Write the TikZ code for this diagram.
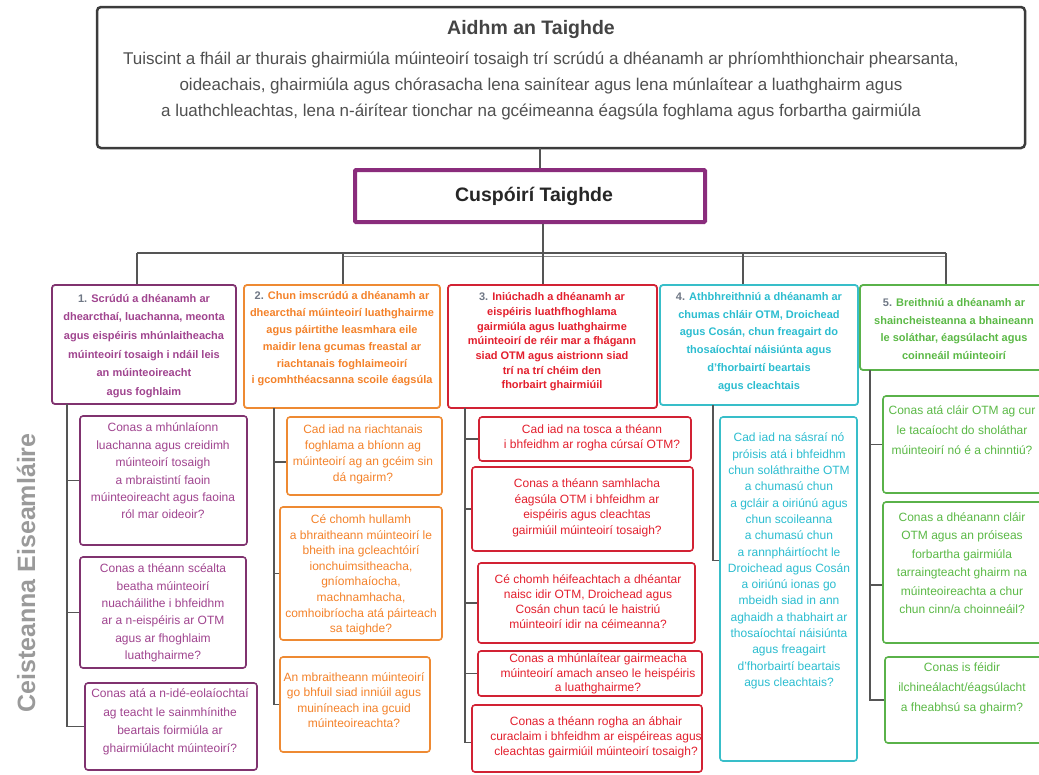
\documentclass[tikz,border=0pt]{standalone}
\usepackage{fontspec}
\setmainfont{Liberation Sans}
\usetikzlibrary{fit}
\definecolor{purpleT}{HTML}{A0448F}
\definecolor{purpleB}{HTML}{80336F}
\definecolor{cuspB}{HTML}{8A2C7C}
\definecolor{orangeT}{HTML}{F4822A}
\definecolor{orangeB}{HTML}{EE8A33}
\definecolor{redT}{HTML}{E31F2D}
\definecolor{redB}{HTML}{D22234}
\definecolor{cyanT}{HTML}{2BBDD0}
\definecolor{cyanB}{HTML}{38BEC9}
\definecolor{greenT}{HTML}{5BB946}
\definecolor{greenB}{HTML}{5AB24A}
\definecolor{numgray}{HTML}{6F7785}
\definecolor{treegray}{HTML}{555555}
\definecolor{aimB}{HTML}{3C3C3C}
\definecolor{aimT}{HTML}{505050}
\definecolor{sidegray}{HTML}{9A9A9A}
\tikzset{
  frame/.style={draw, rounded corners=3pt, fill=white, inner sep=0pt},
  hbox/.style={frame, line width=1.8pt},
  qbox/.style={frame, line width=1.6pt},
  htext/.style={align=center, inner sep=0pt, font=\bfseries\fontsize{11}{#1}\selectfont},
  qtext/.style={align=center, inner sep=0pt, font=\fontsize{12}{#1}\selectfont},
  tree/.style={draw=treegray, line width=1.2pt},
}
\begin{document}
\begin{tikzpicture}[x=1pt,y=-1pt]
\useasboundingbox (0,0) rectangle (1039,774);
\clip (0,0) rectangle (1039,774);

% research aim
\node[frame, draw=aimB, line width=2.5pt, rounded corners=4pt, fit={(97,7) (1025,148)}] (aim) {};
\node[inner sep=0pt, text=aimT!85!black, font=\bfseries\fontsize{19.5}{22}\selectfont] (aimtitle) at (531,29) {Aidhm an Taighde};
\node[align=center, inner sep=0pt, text=aimT, font=\fontsize{17}{26}\selectfont] (aimtext) at (541,86)
  {Tuiscint a fháil ar thurais ghairmiúla múinteoirí tosaigh trí scrúdú a dhéanamh ar phríomhthionchair phearsanta,\\
   oideachais, ghairmiúla agus chórasacha lena sainítear agus lena múnlaítear a luathghairm agus\\
   a luathchleachtas, lena n-áirítear tionchar na gcéimeanna éagsúla foghlama agus forbartha gairmiúla};

% research objectives
\node[frame, draw=cuspB, line width=4pt, rounded corners=1pt, fit={(355,170) (705,222)}] (cusp) {};
\node[inner sep=0pt, font=\bfseries\fontsize{19.5}{22}\selectfont, text=black!85] (cusptext) at (534,196) {Cuspóirí Taighde};

% objective boxes
\node[hbox, draw=purpleB, fit={(52,285) (236,404)}] (h1) {};
\node[htext=18.7, text=purpleT] (h1t) at (144,346)
  {\textcolor{numgray}{1.} Scrúdú a dhéanamh ar\\ dhearcthaí, luachanna, meonta\\ agus eispéiris mhúnlaitheacha\\ múinteoirí tosaigh i ndáil leis\\ an múinteoireacht\\ agus foghlaim};
\node[hbox, draw=orangeB, fit={(244,285) (440,408)}] (h2) {};
\node[htext=16.8, text=orangeT] (h2t) at (342,339)
  {\textcolor{numgray}{2.} Chun imscrúdú a dhéanamh ar\\ dhearcthaí múinteoirí luathghairme\\ agus páirtithe leasmhara eile\\ maidir lena gcumas freastal ar\\ riachtanais foghlaimeoirí\\ i gcomhthéacsanna scoile éagsúla};
\node[hbox, draw=redB, fit={(448,285) (657,408)}] (h3) {};
\node[htext=14.7, text=redT] (h3t) at (552,342)
  {\textcolor{numgray}{3.} Iniúchadh a dhéanamh ar\\ eispéiris luathfhoghlama\\ gairmiúla agus luathghairme\\ múinteoirí de réir mar a fhágann\\ siad OTM agus aistrionn siad\\ trí na trí chéim den\\ fhorbairt ghairmiúil};
\node[hbox, draw=cyanB, fit={(660,285) (858,405)}] (h4) {};
\node[htext=17.8, text=cyanT] (h4t) at (759,342)
  {\textcolor{numgray}{4.} Athbhreithniú a dhéanamh ar\\ chumas chláir OTM, Droichead\\ agus Cosán, chun freagairt do\\ thosaíochtaí náisiúnta agus\\ d'fhorbairtí beartais\\ agus cleachtais};
\node[hbox, draw=greenB, fit={(860,285) (1046,370)}] (h5) {};
\node[htext=17.5, text=greenT] (h5t) at (954,329)
  {\textcolor{numgray}{5.} Breithniú a dhéanamh ar\\ shaincheisteanna a bhaineann\\ le soláthar, éagsúlacht agus\\ coinneáil múinteoirí};

% column 1 questions
\node[qbox, draw=purpleB, fit={(80,416) (247,545)}] (q11) {};
\node[qtext=17.4, text=purpleT] at (163,471)
  {Conas a mhúnlaíonn\\ luachanna agus creidimh\\ múinteoirí tosaigh\\ a mbraistintí faoin\\ múinteoireacht agus faoina\\ ról mar oideoir?};
\node[qbox, draw=purpleB, fit={(80,557) (246,668)}] (q12) {};
\node[qtext=17.4, text=purpleT] at (163,613)
  {Conas a théann scéalta\\ beatha múinteoirí\\ nuacháilithe i bhfeidhm\\ ar a n-eispéiris ar OTM\\ agus ar fhoghlaim\\ luathghairme?};
\node[qbox, draw=purpleB, fit={(85,683) (257,770)}] (q13) {};
\node[qtext=18.3, text=purpleT] at (170,722)
  {Conas atá a n-idé-eolaíochtaí\\ ag teacht le sainmhínithe\\ beartais foirmiúla ar\\ ghairmiúlacht múinteoirí?};

% column 2 questions
\node[qbox, draw=orangeB, fit={(287,417) (442,495)}] (q21) {};
\node[qtext=16, text=orangeT] at (363,454)
  {Cad iad na riachtanais\\ foghlama a bhíonn ag\\ múinteoirí ag an gcéim sin\\ dá ngairm?};
\node[qbox, draw=orangeB, fit={(280,507) (442,640)}] (q22) {};
\node[qtext=15.6, text=orangeT] at (361,575)
  {Cé chomh hullamh\\ a bhraitheann múinteoirí le\\ bheith ina gcleachtóirí\\ ionchuimsitheacha,\\ gníomhaíocha,\\ machnamhacha,\\ comhoibríocha atá páirteach\\ sa taighde?};
\node[qbox, draw=orangeB, fit={(280,657) (430,752)}] (q23) {};
\node[qtext=15.5, text=orangeT] at (354,700)
  {An mbraitheann múinteoirí\\ go bhfuil siad inniúil agus\\ muiníneach ina gcuid\\ múinteoireachta?};

% column 3 questions
\node[qbox, draw=redB, fit={(479,417) (691,461)}] (q31) {};
\node[qtext=15, text=redT] at (592,438)
  {Cad iad na tosca a théann\\ i bhfeidhm ar rogha cúrsaí OTM?};
\node[qbox, draw=redB, fit={(472,467) (693,551)}] (q32) {};
\node[qtext=15.5, text=redT] at (587,508)
  {Conas a théann samhlacha\\ éagsúla OTM i bhfeidhm ar\\ eispéiris agus cleachtas\\ gairmiúil múinteoirí tosaigh?};
\node[qbox, draw=redB, fit={(478,563) (695,643)}] (q33) {};
\node[qtext=15, text=redT] at (588,602)
  {Cé chomh héifeachtach a dhéantar\\ naisc idir OTM, Droichead agus\\ Cosán chun tacú le haistriú\\ múinteoirí idir na céimeanna?};
\node[qbox, draw=redB, fit={(478,651) (702,696)}] (q34) {};
\node[qtext=14.5, text=redT] at (598,674)
  {Conas a mhúnlaítear gairmeacha\\ múinteoirí amach anseo le heispéiris\\ a luathghairme?};
\node[qbox, draw=redB, fit={(472,705) (702,772)}] (q35) {};
\node[qtext=15, text=redT] at (596,737)
  {Conas a théann rogha an ábhair\\ curaclaim i bhfeidhm ar eispéireas agus\\ cleachtas gairmiúil múinteoirí tosaigh?};

% column 4 question
\node[qbox, draw=cyanB, fit={(720,417) (857,761)}] (q41) {};
\node[qtext=16.3, text=cyanT] at (789,561)
  {Cad iad na sásraí nó\\ próisis atá i bhfeidhm\\ chun soláthraithe OTM\\ a chumasú chun\\ a gcláir a oiriúnú agus\\ chun scoileanna\\ a chumasú chun\\ a rannpháirtíocht le\\ Droichead agus Cosán\\ a oiriúnú ionas go\\ mbeidh siad in ann\\ aghaidh a thabhairt ar\\ thosaíochtaí náisiúnta\\ agus freagairt\\ d'fhorbairtí beartais\\ agus cleachtais?};

% column 5 questions
\node[qbox, draw=greenB, fit={(883,396) (1046,493)}] (q51) {};
\node[qtext=20, text=greenT] at (962,430)
  {Conas atá cláir OTM ag cur\\ le tacaíocht do sholáthar\\ múinteoirí nó é a chinntiú?};
\node[qbox, draw=greenB, fit={(883,502) (1046,643)}] (q52) {};
\node[qtext=18.5, text=greenT] at (962,563)
  {Conas a dhéanann cláir\\ OTM agus an próiseas\\ forbartha gairmiúla\\ tarraingteacht ghairm na\\ múinteoireachta a chur\\ chun cinn/a choinneáil?};
\node[qbox, draw=greenB, fit={(885,657) (1046,743)}] (q53) {};
\node[qtext=20, text=greenT] at (962,688)
  {Conas is féidir\\ ilchineálacht/éagsúlacht\\ a fheabhsú sa ghairm?};

% side label
\node[rotate=90, inner sep=0pt, text=sidegray, font=\bfseries\fontsize{25}{28}\selectfont] (side) at (26,573) {Ceisteanna Eiseamláire};

% aim -> objectives -> bus
\coordinate (a0) at (540,148);
\draw[tree] (a0) -- (a0 |- cusp.north);
\coordinate (b0) at (543,253);
\draw[tree] (cusp.south -| b0) -- (b0);
\coordinate (d1) at (137,253);
\coordinate (d2) at (343,253);
\coordinate (d3) at (543,253);
\coordinate (d4) at (743,253);
\coordinate (d5) at (946,253);
\draw[tree] (d1) -- (d5);
\draw[draw=treegray!70, line width=0.9pt] ([yshift=-3pt]d2) -- ([yshift=-3pt]d5);
\foreach \i in {1,...,5} \draw[tree] (d\i) -- (d\i |- h\i.north);

% column 1 tree
\coordinate (s1) at (67,404);
\draw[tree] (s1) |- (q13.west);
\draw[tree] (s1 |- q11.west) -- (q11.west);
\draw[tree] (s1 |- q12.west) -- (q12.west);

% column 2 tree
\coordinate (s2) at (274,408);
\coordinate (k21) at ([yshift=-6pt]q21.west);
\draw[tree] (s2) |- (q23.west);
\draw[tree] (s2 |- k21) -- (k21);
\draw[tree] (s2 |- q22.west) -- (q22.west);

% column 3 tree
\coordinate (s3) at (465,408);
\coordinate (k35) at ([yshift=-4pt]q35.west);
\draw[tree] (s3) |- (k35);
\foreach \q in {q31,q32,q33,q34} \draw[tree] (s3 |- \q.west) -- (\q.west);

% column 4 tree
\coordinate (s4) at (713,405);
\coordinate (k41) at ([yshift=28.5pt]q41.west);
\draw[tree] (s4) |- (k41);

% column 5 tree
\coordinate (s5) at (870,370);
\coordinate (k52) at ([yshift=-12.5pt]q52.west);
\draw[tree] (s5) |- (q53.west);
\draw[tree] (s5 |- q51.west) -- (q51.west);
\draw[tree] (s5 |- k52) -- (k52);
\end{tikzpicture}
\end{document}
